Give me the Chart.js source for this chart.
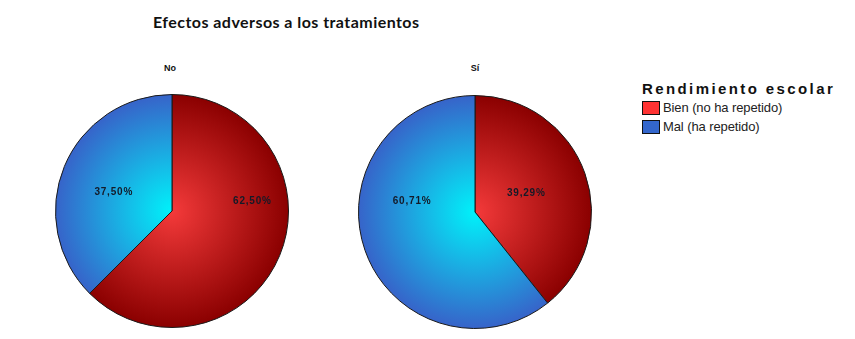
<!DOCTYPE html>
<html lang="es">
<head>
<meta charset="utf-8">
<title>Efectos adversos a los tratamientos</title>
<script src="https://cdn.jsdelivr.net/npm/chart.js@4/dist/chart.umd.min.js"></script>
<style>
  html, body { margin: 0; padding: 0; background: #fff; }
  body { width: 855px; height: 339px; position: relative; overflow: hidden; font-family: "Liberation Sans", Arial, sans-serif; }
  .title { position: absolute; left: 153px; top: 12px; white-space: nowrap; font-family: Lato, "Open Sans", sans-serif; font-weight: 700; font-size: 16px; letter-spacing: 0.45px; color: #111; }
  .sub { position: absolute; top: 63px; width: 60px; text-align: center; font-weight: 700; font-size: 9px; color: #111; }
  .pie { position: absolute; width: 234px; height: 234px; }
  .legend { position: absolute; left: 642px; top: 80px; color: #111; }
  .legend .lt { font-weight: 700; font-size: 15px; letter-spacing: 2.4px; line-height: 18px; white-space: nowrap; }
  .legend .item { display: flex; align-items: center; height: 19px; font-size: 13px; letter-spacing: -0.1px; color: #222; white-space: nowrap; }
  .legend .sw { width: 18px; height: 14px; box-sizing: border-box; border: 1.5px solid #111; margin-right: 3px; }
</style>
</head>
<body>
<div class="title">Efectos adversos a los tratamientos</div>
<div class="sub" id="sub0" style="left:140px">No</div>
<div class="sub" id="sub1" style="left:445px">Sí</div>
<div class="pie" style="left:55px; top:94px"><canvas id="pie0" width="234" height="234"></canvas></div>
<div class="pie" style="left:358px; top:95px"><canvas id="pie1" width="234" height="234"></canvas></div>
<div class="legend" id="legend"></div>

<script>
// Rendimiento escolar según efectos adversos (porcentajes)
const groups = ['No', 'Sí'];
const categories = ['Bien (no ha repetido)', 'Mal (ha repetido)'];
const valuesNo = [62.50, 37.50];
const valuesSi = [39.29, 60.71];

// Colours: flat (legend) and radial gradient stops (slices)
const flatColors = ['#ff3333', '#3366cc'];
const innerColors = ['#f43a3a', '#00f2fa'];
const outerColors = ['#8a0000', '#3763c9'];

// Label anchors as fractions of the radius from the pie centre
const labelAnchors = [
  [[0.69, -0.08], [-0.50, -0.16]],
  [[0.44, -0.16], [-0.54, -0.09]]
];

function radialFill(ctx) {
  const chart = ctx.chart;
  const a = chart.chartArea;
  const i = ctx.dataIndex;
  if (!a || i === undefined) return flatColors[i || 0];
  const cx = (a.left + a.right) / 2, cy = (a.top + a.bottom) / 2;
  const r = Math.min(a.width, a.height) / 2;
  const g = chart.ctx.createRadialGradient(cx, cy, 0, cx, cy, r);
  g.addColorStop(0, innerColors[i]);
  g.addColorStop(1, outerColors[i]);
  return g;
}

const pctLabels = {
  id: 'pctLabels',
  afterDatasetsDraw(chart, args, opts) {
    const meta = chart.getDatasetMeta(0);
    const c = chart.ctx;
    c.save();
    c.font = 'bold 10px "Liberation Sans", Arial, sans-serif';
    if ('letterSpacing' in c) c.letterSpacing = '0.8px';
    c.fillStyle = '#141a28';
    c.textAlign = 'center';
    c.textBaseline = 'middle';
    meta.data.forEach((arc, i) => {
      const v = chart.data.datasets[0].data[i];
      const r = arc.outerRadius;
      const p = opts.anchors[i];
      const txt = v.toFixed(2).replace('.', ',') + '%';
      c.fillText(txt, arc.x + p[0] * r, arc.y + p[1] * r);
    });
    c.restore();
  }
};

function makePie(id, values, anchors) {
  return new Chart(document.getElementById(id), {
    type: 'pie',
    data: {
      labels: categories,
      datasets: [{
        data: values,
        backgroundColor: radialFill,
        borderColor: '#1a1a1a',
        borderWidth: 1
      }]
    },
    options: {
      responsive: false,
      animation: false,
      layout: { padding: 0 },
      plugins: {
        legend: { display: false },
        tooltip: { enabled: false },
        title: { display: false },
        pctLabels: { anchors: anchors }
      }
    },
    plugins: [pctLabels]
  });
}

document.getElementById('sub0').textContent = groups[0];
document.getElementById('sub1').textContent = groups[1];
makePie('pie0', valuesNo, labelAnchors[0]);
makePie('pie1', valuesSi, labelAnchors[1]);

// Legend
const legend = document.getElementById('legend');
const lt = document.createElement('div');
lt.className = 'lt';
lt.textContent = 'Rendimiento escolar';
legend.appendChild(lt);
categories.forEach((name, i) => {
  const item = document.createElement('div');
  item.className = 'item';
  const sw = document.createElement('span');
  sw.className = 'sw';
  sw.style.background = flatColors[i];
  const tx = document.createElement('span');
  tx.textContent = name;
  item.appendChild(sw);
  item.appendChild(tx);
  legend.appendChild(item);
});
</script>
</body>
</html>
